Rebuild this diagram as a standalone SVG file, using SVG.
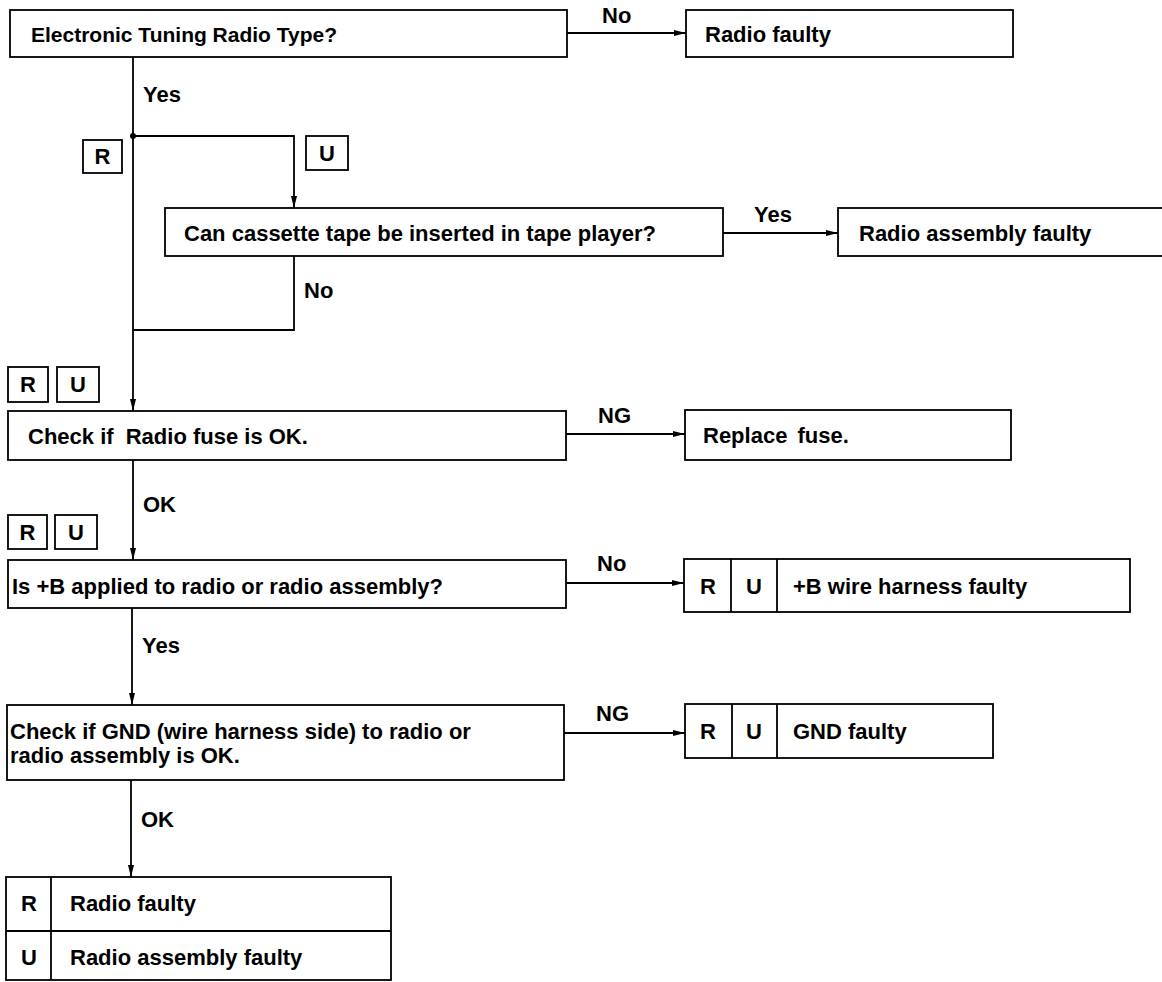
<svg xmlns="http://www.w3.org/2000/svg" width="1162" height="982" viewBox="0 0 1162 982">
<defs>
<marker id="ah" viewBox="0 0 12 8" refX="12" refY="4" markerWidth="12" markerHeight="8" markerUnits="userSpaceOnUse" orient="auto">
<path d="M0,1 L12,4 L0,7 Z" fill="#000"/>
</marker>
</defs>
<style>
rect{fill:#fff;stroke:#000;stroke-width:1.8}
.b{fill:none;stroke:#000;stroke-width:1.8}
text{font-family:"Liberation Sans",Arial,sans-serif;font-weight:bold;font-size:22px;fill:#000}
.c{text-anchor:middle}
.t{font-size:21px}
.ln{fill:none;stroke:#000;stroke-width:1.8}
.ar{fill:none;stroke:#000;stroke-width:1.8;marker-end:url(#ah)}
</style>
<rect x="0" y="0" width="1162" height="982" style="fill:#fff;stroke:none"/>

<g id="connectors">
<line class="ar" x1="567" y1="33" x2="686" y2="33"/>
<line class="ln" x1="133" y1="57" x2="133" y2="330"/>
<line class="ar" x1="133" y1="330" x2="133" y2="411"/>
<polyline class="ar" points="133,136 294,136 294,208"/>
<circle cx="133" cy="136" r="3" fill="#000"/>
<line class="ar" x1="723" y1="233" x2="838" y2="233"/>
<polyline class="ln" points="294,256 294,330 133,330"/>
<line class="ar" x1="566" y1="434" x2="685" y2="434"/>
<line class="ar" x1="133" y1="460" x2="133" y2="560"/>
<line class="ar" x1="566" y1="583" x2="684" y2="583"/>
<line class="ar" x1="132" y1="608" x2="132" y2="705"/>
<line class="ar" x1="564" y1="733" x2="685" y2="733"/>
<line class="ar" x1="131" y1="780" x2="131" y2="877"/>
<text x="602" y="23">No</text>
<text x="143" y="102">Yes</text>
<text x="754" y="222">Yes</text>
<text x="304" y="298">No</text>
<text x="598" y="423">NG</text>
<text x="143" y="512">OK</text>
<text x="597" y="571">No</text>
<text x="142" y="653">Yes</text>
<text x="596" y="721">NG</text>
<text x="141" y="827">OK</text>
</g>

<g id="tagR1"><rect x="83" y="140" width="39" height="33"/><text class="c" x="102.5" y="164">R</text></g>
<g id="tagU1"><rect x="306" y="136" width="42" height="34"/><text class="c" x="327" y="161">U</text></g>
<g id="tagRU2"><rect x="8" y="367" width="40" height="35"/><text class="c" x="28" y="392">R</text><rect x="57" y="367" width="42" height="35"/><text class="c" x="78" y="392">U</text></g>
<g id="tagRU3"><rect x="8" y="515" width="39" height="34"/><text class="c" x="27.5" y="540">R</text><rect x="55" y="515" width="42" height="34"/><text class="c" x="76" y="540">U</text></g>

<g id="n1"><rect x="10" y="10" width="557" height="47"/><text class="t" x="31" y="42">Electronic Tuning Radio Type?</text></g>
<g id="n2"><rect x="686" y="10" width="327" height="47"/><text x="705" y="42">Radio faulty</text></g>
<g id="n3"><rect x="165" y="208" width="558" height="48"/><text x="184" y="241">Can cassette tape be inserted in tape player?</text></g>
<g id="n4"><rect x="838" y="208" width="340" height="48"/><text x="859" y="241">Radio assembly faulty</text></g>
<g id="n5"><rect x="8" y="411" width="558" height="49"/><text x="28" y="444">Check if <tspan dx="6">Radio fuse is OK.</tspan></text></g>
<g id="n6"><rect x="685" y="410" width="326" height="50"/><text x="703" y="443">Replace <tspan dx="4">fuse.</tspan></text></g>
<g id="n7"><rect x="8" y="560" width="558" height="48"/><text x="12" y="594">Is +B applied to radio or radio assembly?</text></g>
<g id="n8"><rect x="684" y="559" width="446" height="53"/><line class="b" x1="731" y1="559" x2="731" y2="612"/><line class="b" x1="777" y1="559" x2="777" y2="612"/><text class="c" x="708" y="594">R</text><text class="c" x="754" y="594">U</text><text x="793" y="594">+B wire harness faulty</text></g>
<g id="n9"><rect x="7" y="705" width="557" height="75"/><text x="10" y="739">Check if GND (wire harness side) to radio or</text><text x="10" y="763">radio assembly is OK.</text></g>
<g id="n10"><rect x="685" y="704" width="308" height="54"/><line class="b" x1="732" y1="704" x2="732" y2="758"/><line class="b" x1="777" y1="704" x2="777" y2="758"/><text class="c" x="708" y="739">R</text><text class="c" x="754" y="739">U</text><text x="793" y="739">GND faulty</text></g>
<g id="n11"><rect x="6" y="877" width="385" height="103"/><line class="b" x1="51" y1="877" x2="51" y2="980"/><line class="b" x1="6" y1="931" x2="391" y2="931"/><text class="c" x="29" y="911">R</text><text x="70" y="911">Radio faulty</text><text class="c" x="29" y="965">U</text><text x="70" y="965">Radio assembly faulty</text></g>
</svg>
